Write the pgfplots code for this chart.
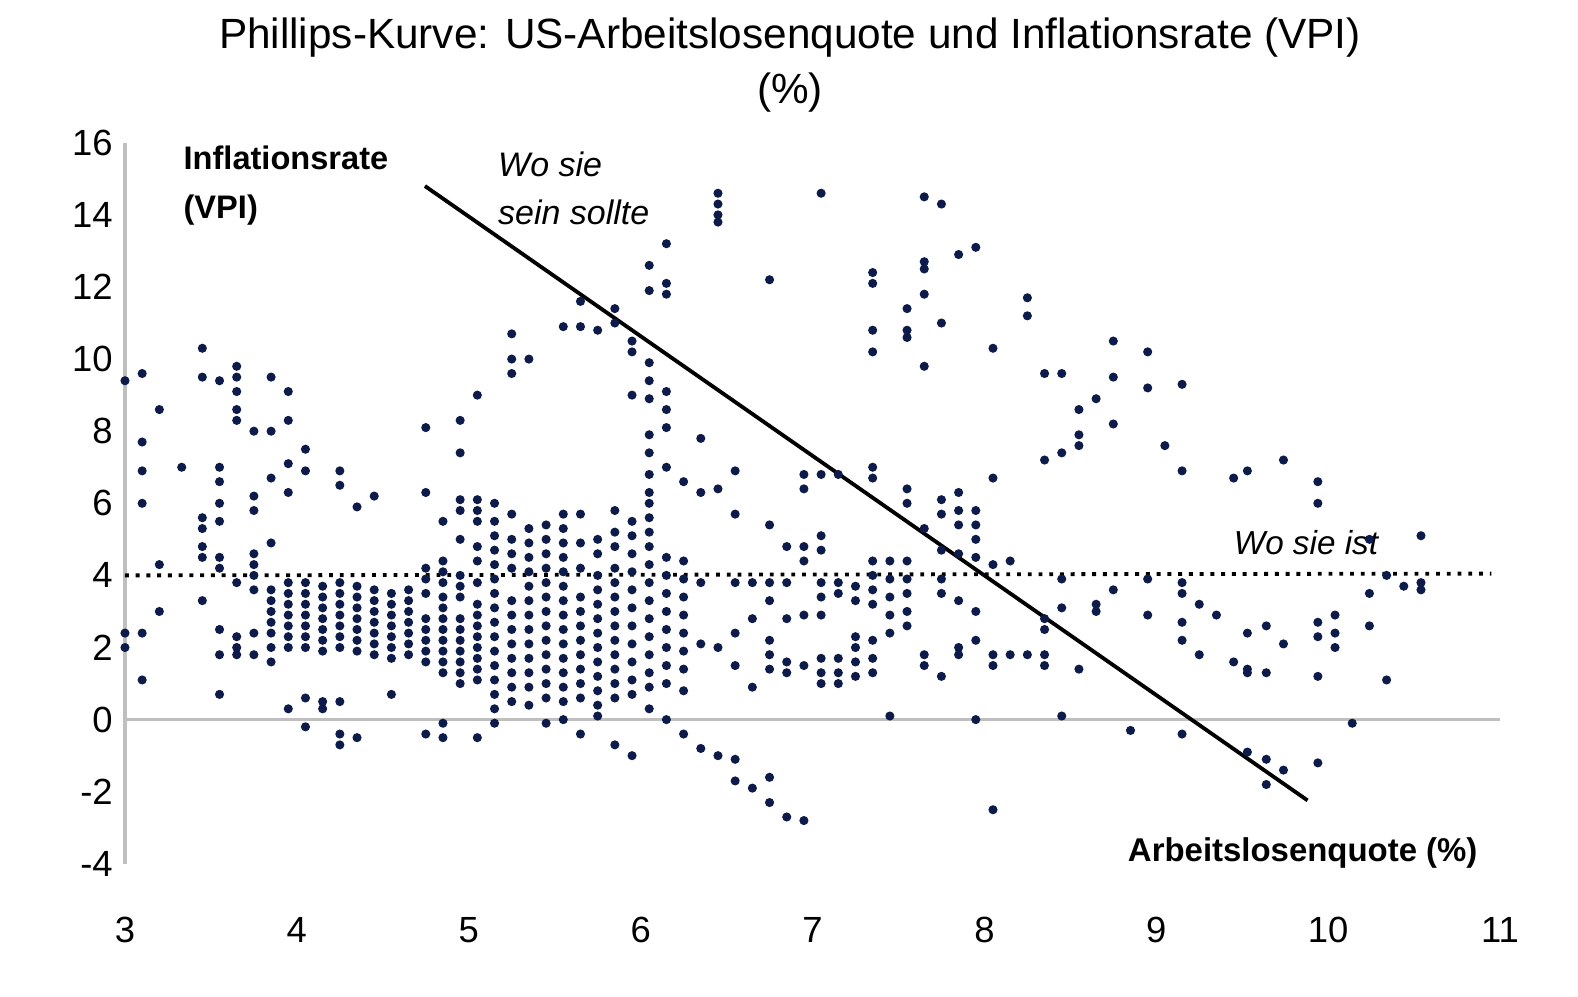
\documentclass[border=0pt]{standalone}
\usepackage{pgfplots}
\pgfplotsset{compat=1.18}
\usepackage{fontspec}
\setmainfont{Liberation Sans}
\definecolor{dot}{HTML}{0D1B4A}
\begin{document}
\begin{tikzpicture}
\begin{axis}[scale only axis, width=13.94cm, height=7.31cm,
  xmin=3, xmax=11, ymin=-4, ymax=16, clip=false,
  axis line style={draw=none}, tick style={draw=none},
  xtick={3,4,...,11}, ytick={-4,-2,...,16},
  xticklabel style={yshift=-0.42cm},
  tick label style={font=\fontsize{10.5}{13}\selectfont},
  /pgf/number format/assume math mode=true]
\path (rel axis cs:-0.0909,-0.1845) rectangle (rel axis cs:1.0567,1.198);
\addplot[gray!50, line width=1pt] coordinates {(3,0) (11,0)};
\addplot[gray!50, line width=1pt] coordinates {(3,-4) (3,16)};
\addplot[only marks, mark=*, mark size=1.1pt, color=dot] coordinates {
(3.0,9.4)(3.0,2.4)(3.0,2.0)
(3.1,9.6)(3.1,7.7)(3.1,6.9)(3.1,6.0)(3.1,2.4)(3.1,1.1)
(3.2,8.6)(3.2,4.3)(3.2,3.0)(3.33,7.0)
(3.45,10.3)(3.45,9.5)(3.45,5.6)(3.45,5.3)(3.45,4.8)(3.45,4.5)(3.45,3.3)
(3.55,9.4)(3.55,7.0)(3.55,6.6)(3.55,6.0)(3.55,5.5)(3.55,4.5)(3.55,4.2)(3.55,2.5)(3.55,1.8)(3.55,0.7)
(3.65,9.8)(3.65,9.5)(3.65,9.1)(3.65,8.6)(3.65,8.3)(3.65,3.8)(3.65,2.3)(3.65,2.0)(3.65,1.8)
(3.75,8.0)(3.75,6.2)(3.75,5.8)(3.75,4.6)(3.75,4.3)(3.75,4.0)(3.75,3.6)(3.75,2.4)(3.75,1.8)
(3.85,9.5)(3.85,8.0)(3.85,6.7)(3.85,4.9)(3.85,3.6)(3.85,3.3)(3.85,3.0)(3.85,2.7)(3.85,2.4)(3.85,2.0)(3.85,1.6)
(3.95,9.1)(3.95,8.3)(3.95,7.1)(3.95,6.3)(3.95,3.8)(3.95,3.5)(3.95,3.2)(3.95,2.9)(3.95,2.6)(3.95,2.3)(3.95,2.0)(3.95,0.3)
(4.05,7.5)(4.05,6.9)(4.05,3.8)(4.05,3.5)(4.05,3.2)(4.05,2.9)(4.05,2.6)(4.05,2.3)(4.05,2.0)(4.05,0.6)(4.05,-0.2)
(4.15,3.7)(4.15,3.4)(4.15,3.1)(4.15,2.8)(4.15,2.5)(4.15,2.2)(4.15,1.9)(4.15,0.5)(4.15,0.3)
(4.25,6.9)(4.25,6.5)(4.25,3.8)(4.25,3.5)(4.25,3.2)(4.25,2.9)(4.25,2.6)(4.25,2.3)(4.25,2.0)(4.25,0.5)(4.25,-0.4)(4.25,-0.7)
(4.35,5.9)(4.35,3.7)(4.35,3.4)(4.35,3.1)(4.35,2.8)(4.35,2.5)(4.35,2.2)(4.35,1.9)(4.35,-0.5)
(4.45,6.2)(4.45,3.6)(4.45,3.3)(4.45,3.0)(4.45,2.7)(4.45,2.4)(4.45,2.1)(4.45,1.8)
(4.55,3.5)(4.55,3.2)(4.55,2.9)(4.55,2.6)(4.55,2.3)(4.55,2.0)(4.55,1.7)(4.55,0.7)
(4.65,3.6)(4.65,3.3)(4.65,3.0)(4.65,2.7)(4.65,2.4)(4.65,2.1)(4.65,1.8)
(4.75,8.1)(4.75,6.3)(4.75,4.2)(4.75,3.9)(4.75,3.5)(4.75,2.8)(4.75,2.5)(4.75,2.2)(4.75,1.9)(4.75,1.6)(4.75,-0.4)
(4.85,5.5)(4.85,4.4)(4.85,4.1)(4.85,3.8)(4.85,3.4)(4.85,3.1)(4.85,2.8)(4.85,2.5)(4.85,2.2)(4.85,1.9)(4.85,1.6)(4.85,1.3)(4.85,-0.1)(4.85,-0.5)
(4.95,8.3)(4.95,7.4)(4.95,6.1)(4.95,5.8)(4.95,5.0)(4.95,4.0)(4.95,3.7)(4.95,3.4)(4.95,2.8)(4.95,2.5)(4.95,2.2)(4.95,1.9)(4.95,1.6)(4.95,1.3)(4.95,1.0)
(5.05,9.0)(5.05,6.1)(5.05,5.8)(5.05,5.5)(5.05,4.8)(5.05,4.4)(5.05,3.8)(5.05,3.2)(5.05,2.9)(5.05,2.6)(5.05,2.3)(5.05,2.0)(5.05,1.7)(5.05,1.4)(5.05,1.1)(5.05,-0.5)
(5.15,6.0)(5.15,5.5)(5.15,5.1)(5.15,4.7)(5.15,4.3)(5.15,3.9)(5.15,3.5)(5.15,3.1)(5.15,2.7)(5.15,2.3)(5.15,1.9)(5.15,1.5)(5.15,1.1)(5.15,0.7)(5.15,0.3)(5.15,-0.1)
(5.25,10.7)(5.25,10.0)(5.25,9.6)(5.25,5.7)(5.25,5.0)(5.25,4.6)(5.25,4.2)(5.25,3.3)(5.25,2.9)(5.25,2.5)(5.25,2.1)(5.25,1.7)(5.25,1.3)(5.25,0.9)(5.25,0.5)
(5.35,10.0)(5.35,5.3)(5.35,4.9)(5.35,4.5)(5.35,4.1)(5.35,3.7)(5.35,3.3)(5.35,2.9)(5.35,2.5)(5.35,2.1)(5.35,1.7)(5.35,1.3)(5.35,0.9)(5.35,0.4)
(5.45,5.4)(5.45,5.0)(5.45,4.6)(5.45,4.2)(5.45,3.8)(5.45,3.4)(5.45,3.0)(5.45,2.6)(5.45,2.2)(5.45,1.8)(5.45,1.4)(5.45,1.0)(5.45,0.6)(5.45,-0.1)
(5.55,10.9)(5.55,5.7)(5.55,5.3)(5.55,4.9)(5.55,4.5)(5.55,4.1)(5.55,3.7)(5.55,3.3)(5.55,2.9)(5.55,2.5)(5.55,2.1)(5.55,1.7)(5.55,1.3)(5.55,0.9)(5.55,0.5)(5.55,0.0)
(5.65,11.6)(5.65,10.9)(5.65,5.7)(5.65,4.9)(5.65,4.2)(5.65,3.4)(5.65,3.0)(5.65,2.6)(5.65,2.2)(5.65,1.8)(5.65,1.4)(5.65,1.0)(5.65,0.6)(5.65,-0.4)
(5.75,10.8)(5.75,5.0)(5.75,4.6)(5.75,4.0)(5.75,3.6)(5.75,3.2)(5.75,2.8)(5.75,2.4)(5.75,2.0)(5.75,1.6)(5.75,1.2)(5.75,0.8)(5.75,0.4)(5.75,0.1)
(5.85,11.4)(5.85,11.0)(5.85,5.8)(5.85,5.2)(5.85,4.8)(5.85,4.2)(5.85,3.8)(5.85,3.4)(5.85,3.0)(5.85,2.6)(5.85,2.2)(5.85,1.8)(5.85,1.4)(5.85,1.0)(5.85,0.6)(5.85,-0.7)
(5.95,10.5)(5.95,10.2)(5.95,9.0)(5.95,5.5)(5.95,5.1)(5.95,4.6)(5.95,4.1)(5.95,3.6)(5.95,3.1)(5.95,2.6)(5.95,2.1)(5.95,1.6)(5.95,1.1)(5.95,0.7)(5.95,-1.0)
(6.05,12.6)(6.05,11.9)(6.05,9.9)(6.05,9.4)(6.05,8.9)(6.05,7.9)(6.05,7.4)(6.05,6.8)(6.05,6.3)(6.05,6.0)(6.05,5.6)(6.05,5.2)(6.05,4.8)(6.05,4.3)(6.05,3.8)(6.05,3.3)(6.05,2.8)(6.05,2.3)(6.05,1.8)(6.05,1.3)(6.05,0.9)(6.05,0.3)
(6.15,13.2)(6.15,12.1)(6.15,11.8)(6.15,9.1)(6.15,8.6)(6.15,8.1)(6.15,7.0)(6.15,4.5)(6.15,4.0)(6.15,3.5)(6.15,3.0)(6.15,2.5)(6.15,2.0)(6.15,1.5)(6.15,1.0)(6.15,0.0)
(6.25,6.6)(6.25,4.4)(6.25,3.9)(6.25,3.4)(6.25,2.9)(6.25,2.4)(6.25,1.9)(6.25,1.4)(6.25,0.8)(6.25,-0.4)
(6.35,7.8)(6.35,6.3)(6.35,3.8)(6.35,2.1)(6.35,-0.8)
(6.45,14.6)(6.45,14.3)(6.45,14.0)(6.45,13.8)(6.45,6.4)(6.45,2.0)(6.45,-1.0)
(6.55,6.9)(6.55,5.7)(6.55,3.8)(6.55,2.4)(6.55,1.5)(6.55,-1.1)(6.55,-1.7)
(6.65,3.8)(6.65,2.8)(6.65,0.9)(6.65,-1.9)
(6.75,12.2)(6.75,5.4)(6.75,3.8)(6.75,3.3)(6.75,2.2)(6.75,1.8)(6.75,1.4)(6.75,-1.6)(6.75,-2.3)
(6.85,4.8)(6.85,3.8)(6.85,2.8)(6.85,1.6)(6.85,1.3)(6.85,-2.7)
(6.95,6.8)(6.95,6.4)(6.95,4.8)(6.95,4.4)(6.95,2.9)(6.95,1.5)(6.95,-2.8)
(7.05,14.6)(7.05,6.8)(7.05,5.1)(7.05,4.7)(7.05,3.8)(7.05,3.4)(7.05,2.9)(7.05,1.7)(7.05,1.3)(7.05,1.0)
(7.15,6.8)(7.15,3.8)(7.15,3.5)(7.15,1.7)(7.15,1.3)(7.15,1.0)
(7.25,3.7)(7.25,3.3)(7.25,2.3)(7.25,2.0)(7.25,1.6)(7.25,1.2)
(7.35,12.4)(7.35,12.1)(7.35,10.8)(7.35,10.2)(7.35,7.0)(7.35,6.7)(7.35,4.4)(7.35,4.0)(7.35,3.6)(7.35,3.2)(7.35,2.2)(7.35,1.7)(7.35,1.3)
(7.45,4.4)(7.45,3.9)(7.45,3.4)(7.45,2.9)(7.45,2.4)(7.45,0.1)
(7.55,11.4)(7.55,10.8)(7.55,10.6)(7.55,6.4)(7.55,6.0)(7.55,4.4)(7.55,3.9)(7.55,3.5)(7.55,3.0)(7.55,2.6)
(7.65,14.5)(7.65,12.7)(7.65,12.5)(7.65,11.8)(7.65,9.8)(7.65,5.3)(7.65,1.8)(7.65,1.5)
(7.75,14.3)(7.75,11.0)(7.75,6.1)(7.75,5.7)(7.75,4.7)(7.75,3.9)(7.75,3.5)(7.75,1.2)
(7.85,12.9)(7.85,6.3)(7.85,5.8)(7.85,5.4)(7.85,4.6)(7.85,3.3)(7.85,2.0)(7.85,1.8)
(7.95,13.1)(7.95,5.8)(7.95,5.4)(7.95,5.0)(7.95,4.5)(7.95,3.0)(7.95,2.2)(7.95,0.0)
(8.05,10.3)(8.05,6.7)(8.05,4.3)(8.05,1.8)(8.05,1.5)(8.05,-2.5)
(8.15,4.4)(8.15,1.8)
(8.25,11.7)(8.25,11.2)(8.25,1.8)
(8.35,9.6)(8.35,7.2)(8.35,2.8)(8.35,2.5)(8.35,1.8)(8.35,1.5)
(8.45,9.6)(8.45,7.4)(8.45,3.9)(8.45,3.1)(8.45,0.1)
(8.55,8.6)(8.55,7.9)(8.55,7.6)(8.55,1.4)
(8.65,8.9)(8.65,3.2)(8.65,3.0)
(8.75,10.5)(8.75,9.5)(8.75,8.2)(8.75,3.6)
(8.85,-0.3)
(8.95,10.2)(8.95,9.2)(8.95,3.9)(8.95,2.9)
(9.05,7.6)
(9.15,9.3)(9.15,6.9)(9.15,3.8)(9.15,3.5)(9.15,2.7)(9.15,2.2)(9.15,-0.4)
(9.25,3.2)(9.25,1.8)
(9.35,2.9)
(9.45,6.7)(9.45,1.6)
(9.53,6.9)(9.53,2.4)(9.53,1.4)(9.53,1.3)(9.53,-0.9)
(9.64,2.6)(9.64,1.3)(9.64,-1.1)(9.64,-1.8)
(9.74,7.2)(9.74,2.1)(9.74,-1.4)
(9.94,6.6)(9.94,6.0)(9.94,2.7)(9.94,2.3)(9.94,1.2)(9.94,-1.2)
(10.04,2.9)(10.04,2.4)(10.04,2.0)
(10.14,-0.1)
(10.24,5.0)(10.24,3.5)(10.24,2.6)
(10.34,4.0)(10.34,1.1)
(10.44,3.7)
(10.54,5.1)(10.54,3.8)(10.54,3.6)
};
\addplot[black, line width=1.1pt] coordinates {(4.745,14.8) (9.88,-2.24)};
\addplot[black, line width=1.1pt, dotted] coordinates {(3,4.0) (10.95,4.05)};
\node[anchor=north west, align=left, font=\bfseries\fontsize{9.4}{14}\selectfont] at (axis cs:3.27,16.25) {Inflationsrate\\(VPI)};
\node[anchor=north west, align=left, font=\itshape\fontsize{9.8}{14}\selectfont] at (axis cs:5.1,16.1) {Wo sie\\sein sollte};
\node[anchor=west, font=\itshape\fontsize{9.6}{13}\selectfont] at (axis cs:9.38,4.9) {Wo sie ist};
\node[anchor=east, font=\bfseries\fontsize{9.5}{13}\selectfont] at (axis cs:10.94,-3.7) {Arbeitslosenquote (\%)};
\node[font=\fontsize{12.2}{15}\selectfont] at (rel axis cs:0.4836,1.1456) {Phillips-Kurve: US-Arbeitslosenquote und Inflationsrate (VPI)};
\node[font=\fontsize{12.2}{15}\selectfont] at (rel axis cs:0.4836,1.069) {(\%)};
\end{axis}
\end{tikzpicture}
\end{document}
